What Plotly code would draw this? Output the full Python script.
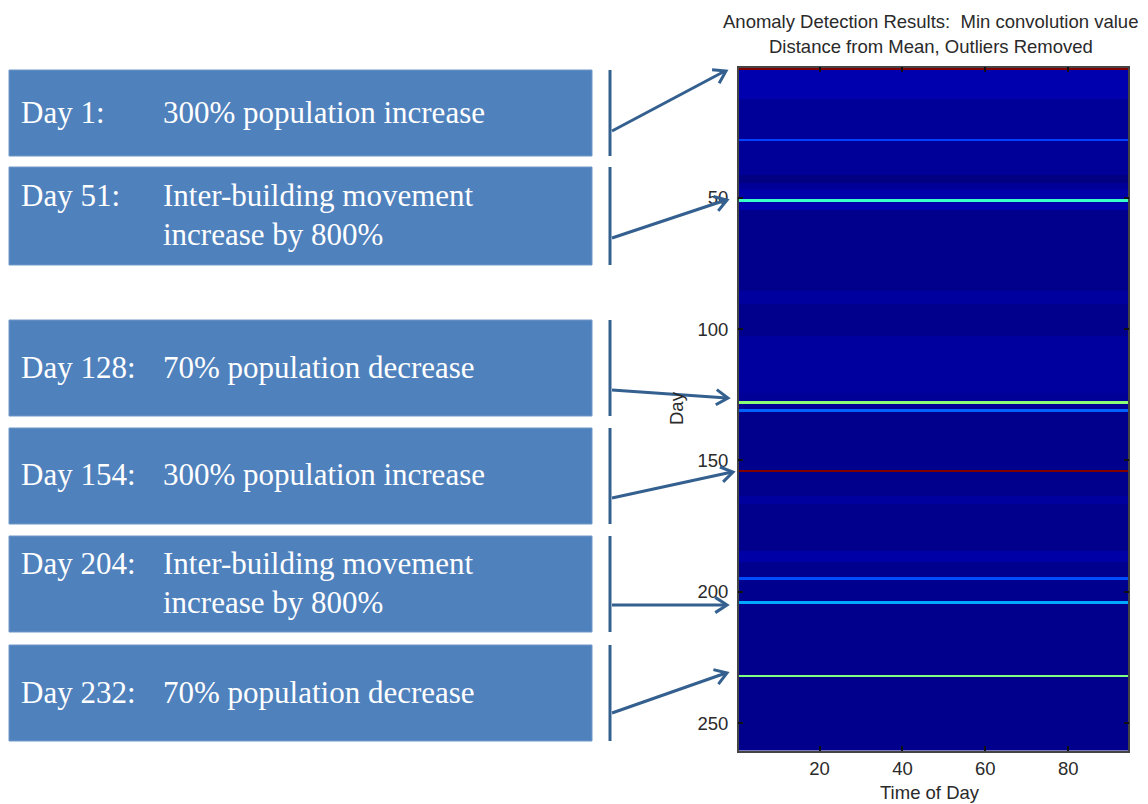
import math
import plotly.graph_objects as go

W, H = 1148, 804

# ---- anomaly score per day (uniform over the time-of-day bins) ----
n_days = 260
n_bins = 94

# background score: level holds from each start day until the next start day
bg_start_days = [1, 13, 42, 45, 47, 53, 55, 86, 91, 103, 125, 132, 164, 167, 185, 189, 205]
bg_levels =     [0.045, 0.025, 0.0, 0.025, 0.04, 0.045, 0.012, 0.03, 0.012, 0.03, 0.022, 0.012, 0.03, 0.012, 0.038, 0.015, 0.012]

# days with a strong response
spike_days =   [1, 28, 51, 128, 131, 154, 195, 204, 232]
spike_levels = [1.0, 0.19, 0.43, 0.51, 0.22, 1.0, 0.2, 0.29, 0.5]

# injected events listed on the left
event_days = [1, 51, 128, 154, 204, 232]
event_labels = ["Day 1:", "Day 51:", "Day 128:", "Day 154:", "Day 204:", "Day 232:"]
event_texts = [
    ["300% population increase"],
    ["Inter-building movement", "increase by 800%"],
    ["70% population decrease"],
    ["300% population increase"],
    ["Inter-building movement", "increase by 800%"],
    ["70% population decrease"],
]

x_ticks = [20, 40, 60, 80]
y_ticks = [50, 100, 150, 200, 250]

days = list(range(1, n_days + 1))
bins = list(range(1, n_bins + 1))

day_score = []
for d in days:
    lvl = bg_levels[0]
    for s, v in zip(bg_start_days, bg_levels):
        if d >= s:
            lvl = v
    day_score.append(lvl)
for d, v in zip(spike_days, spike_levels):
    day_score[d - 1] = v
z = [[v] * n_bins for v in day_score]

# MATLAB-style jet colormap
jet = [
    [0.0, "rgb(0,0,128)"],
    [0.125, "rgb(0,0,255)"],
    [0.375, "rgb(0,255,255)"],
    [0.625, "rgb(255,255,0)"],
    [0.875, "rgb(255,0,0)"],
    [1.0, "rgb(128,0,0)"],
]

# heatmap placement in pixels
px_left, px_right = 738.7, 1128.3
px_top, px_bottom = 67.7, 750.7


def pxx(x):
    return x / W


def pxy(y):
    return 1 - y / H


fig = go.Figure(
    go.Heatmap(
        z=z, x=bins, y=days, colorscale=jet, zmin=0, zmax=1,
        showscale=False, zsmooth=False, hoverinfo="skip",
    )
)

axis_font = dict(family="Liberation Sans, Arial, sans-serif", size=18.5, color="#2a2a2a")

fig.update_xaxes(
    domain=[pxx(px_left), pxx(px_right)], range=[0.5, n_bins + 0.5],
    tickvals=x_ticks, ticks="inside", ticklen=5, tickcolor="#111", tickwidth=1.5,
    showline=True, linecolor="#444", linewidth=1.5, mirror="ticks",
    showgrid=False, zeroline=False, tickfont=axis_font,
)
fig.update_yaxes(
    domain=[pxy(px_bottom), pxy(px_top)], range=[n_days + 0.5, 0.5],
    tickvals=y_ticks, ticks="inside", ticklen=5, tickcolor="#111", tickwidth=1.5,
    showline=True, linecolor="#444", linewidth=1.5, mirror="ticks",
    showgrid=False, zeroline=False, tickfont=axis_font, ticklabelstandoff=5,
)

shapes = []
annotations = []

# title and axis labels
annotations += [
    dict(text="Anomaly Detection Results:  Min convolution value", x=pxx(930.5), y=pxy(21),
         xref="paper", yref="paper", showarrow=False, xanchor="center", yanchor="middle",
         font=axis_font),
    dict(text="Distance from Mean, Outliers Removed", x=pxx(930.5), y=pxy(46),
         xref="paper", yref="paper", showarrow=False, xanchor="center", yanchor="middle",
         font=axis_font),
    dict(text="Time of Day", x=pxx(929.5), y=pxy(792), xref="paper", yref="paper",
         showarrow=False, xanchor="center", yanchor="middle", font=axis_font),
    dict(text="Day", x=pxx(676), y=pxy(408), xref="paper", yref="paper", textangle=-90,
         showarrow=False, xanchor="center", yanchor="middle", font=axis_font),
]

# event boxes on the left
box_fill = "#4F81BD"
link_color = "#34608F"
box_tops = [70, 167, 320, 428, 536, 645]
box_bottoms = [156, 265, 416, 524, 632, 741]
box_left, box_right = 9, 592
label_x, text_x = 19, 161
line_gap = 39
serif = dict(family="Liberation Serif, Times New Roman, serif", size=31, color="white")

for top, bot, lab, lines in zip(box_tops, box_bottoms, event_labels, event_texts):
    shapes.append(dict(type="rect", xref="paper", yref="paper",
                       x0=pxx(box_left), x1=pxx(box_right), y0=pxy(bot), y1=pxy(top),
                       fillcolor=box_fill, line=dict(color="#6F97C9", width=1), layer="above"))
    shapes.append(dict(type="line", xref="paper", yref="paper",
                       x0=pxx(610), x1=pxx(610), y0=pxy(bot), y1=pxy(top),
                       line=dict(color=link_color, width=3)))
    mid = (top + bot) / 2
    first = mid - line_gap * (len(lines) - 1) / 2 - 1
    annotations.append(dict(text=lab, x=pxx(label_x), y=pxy(first), xref="paper", yref="paper",
                            showarrow=False, xanchor="left", yanchor="middle", font=serif))
    for i, t in enumerate(lines):
        annotations.append(dict(text=t, x=pxx(text_x), y=pxy(first + i * line_gap),
                                xref="paper", yref="paper", showarrow=False,
                                xanchor="left", yanchor="middle", font=serif))

# connector arrows (pixel tail -> pixel head) with open chevron heads
arrow_tails = [(612, 131), (612, 238), (612, 390), (612, 498), (612, 605), (612, 713)]
arrow_heads = [(726, 71), (727, 200), (728, 398), (733, 472), (727, 605), (727, 673)]
head_len, head_ang = 14, math.radians(33)

for (tx, ty), (hx, hy) in zip(arrow_tails, arrow_heads):
    shapes.append(dict(type="line", xref="paper", yref="paper",
                       x0=pxx(tx), y0=pxy(ty), x1=pxx(hx - 1), y1=pxy(hy),
                       line=dict(color=link_color, width=3)))
    ang = math.atan2(hy - ty, hx - tx)
    w1 = (hx - head_len * math.cos(ang - head_ang), hy - head_len * math.sin(ang - head_ang))
    w2 = (hx - head_len * math.cos(ang + head_ang), hy - head_len * math.sin(ang + head_ang))
    path = "M{},{} L{},{} L{},{}".format(
        pxx(w1[0]), pxy(w1[1]), pxx(hx), pxy(hy), pxx(w2[0]), pxy(w2[1]))
    shapes.append(dict(type="path", xref="paper", yref="paper", path=path,
                       line=dict(color=link_color, width=3)))

fig.update_layout(
    width=W, height=H, margin=dict(l=0, r=0, t=0, b=0),
    paper_bgcolor="white", plot_bgcolor="white",
    shapes=shapes, annotations=annotations, showlegend=False,
)

fig.write_html("out.html")
